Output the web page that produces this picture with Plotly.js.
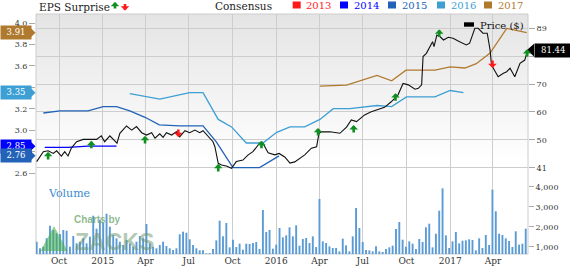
<!DOCTYPE html>
<html><head><meta charset="utf-8">
<script src="https://cdn.plot.ly/plotly-3.0.1.min.js"></script>
<style>html,body{margin:0;padding:0;background:#fff;}#chart{width:570px;height:266px;}</style>
</head><body><div id="chart"></div>
<script>
// ---------------- DATA ----------------
const priceDates = ['2014-08-15','2014-08-29','2014-09-08','2014-09-19','2014-09-26','2014-10-06','2014-10-13','2014-10-20','2014-10-27','2014-11-07',
'2014-11-21','2014-12-08','2014-12-19','2014-12-29','2015-01-05','2015-01-16','2015-01-23','2015-01-31','2015-02-06','2015-02-20',
'2015-03-03','2015-03-13','2015-03-24','2015-04-03','2015-04-14','2015-04-21','2015-05-01','2015-05-08','2015-05-15','2015-05-26',
'2015-06-05','2015-06-12','2015-06-23','2015-07-03','2015-07-14','2015-07-24','2015-07-31','2015-08-11','2015-08-21','2015-08-25',
'2015-09-01','2015-09-08','2015-09-18','2015-09-29','2015-10-09','2015-10-23','2015-11-03','2015-11-13','2015-11-27','2015-12-04',
'2015-12-15','2015-12-29','2016-01-07','2016-01-19','2016-01-30','2016-02-09','2016-02-20','2016-03-01','2016-03-15','2016-03-26',
'2016-03-31','2016-04-05','2016-04-23','2016-05-14','2016-05-28','2016-06-07','2016-06-18','2016-07-05','2016-07-19','2016-08-02',
'2016-08-16','2016-08-30','2016-09-13','2016-09-24','2016-10-05','2016-10-19','2016-10-26','2016-11-02','2016-11-05','2016-11-12',
'2016-11-19','2016-11-25','2016-11-28','2016-12-04','2016-12-11','2016-12-18','2016-12-28','2017-01-07','2017-01-21','2017-02-04',
'2017-02-11','2017-02-22','2017-03-01','2017-03-11','2017-03-20','2017-03-26','2017-03-29','2017-04-12','2017-04-23','2017-04-30',
'2017-05-07','2017-05-17','2017-05-28','2017-06-07','2017-06-13'];
const priceValues = [43.2,46.6,46.9,46.0,46.9,45.1,46.6,45.1,47.8,50.0,
50.8,50.8,50.8,52.0,50.0,52.0,50.8,49.5,52.9,55.4,
54.0,55.2,53.1,52.3,53.1,51.2,52.7,51.5,53.1,52.3,
53.4,51.7,53.8,53.1,54.0,53.1,53.8,51.7,50.0,48.3,
42.6,42.0,41.7,40.9,43.2,43.7,45.5,46.6,49.5,49.5,
46.2,45.5,46.0,44.8,42.7,43.1,44.4,45.5,47.8,48.3,
52.9,53.4,53.4,52.9,55.0,57.5,56.9,59.2,60.3,61.1,
61.8,63.7,66.0,70.0,69.5,68.0,68.3,69.5,79.2,80.3,
82.6,84.3,82.6,86.6,86.0,84.9,85.8,85.5,84.3,83.2,
83.8,88.9,88.9,87.2,87.2,81.5,76.3,72.3,73.5,74.0,
75.2,72.3,76.9,78.0,81.44];

const eps2014Dates = ['2014-09-01','2014-10-20','2014-12-01','2015-01-30'];
const eps2014 = [2.84,2.84,2.85,2.85];
const eps2015Dates = ['2014-08-29','2014-10-03','2014-12-01','2015-01-02','2015-01-30','2015-02-27','2015-03-31','2015-04-30','2015-06-12','2015-07-31','2015-08-28','2015-10-02','2015-11-27','2016-01-07'];
const eps2015 = [3.16,3.18,3.18,3.22,3.22,3.18,3.12,3.05,3.04,3.04,2.89,2.65,2.65,2.76];
const eps2016Dates = ['2015-02-27','2015-05-01','2015-07-03','2015-07-31','2015-09-01','2015-09-29','2015-10-30','2015-12-04','2016-01-02','2016-01-30','2016-03-01','2016-04-02','2016-04-30','2016-06-04','2016-07-31','2016-08-31','2016-10-01','2016-11-30','2017-01-01','2017-01-29'];
const eps2016 = [3.34,3.29,3.35,3.35,3.10,3.03,2.88,2.88,2.98,3.03,3.03,3.10,3.20,3.20,3.23,3.22,3.31,3.31,3.37,3.35];
const eps2017Dates = ['2016-04-02','2016-05-28','2016-07-31','2016-08-31','2016-09-30','2016-11-30','2017-01-01','2017-02-01','2017-02-25','2017-03-26','2017-04-30','2017-06-11'];
const eps2017 = [3.41,3.42,3.51,3.46,3.56,3.56,3.59,3.58,3.62,3.72,3.95,3.91];

const volumeValues = [1250,920,1000,1420,2050,1835,1670,1635,1835,1800,1000,1535,1170,1250,1420,1170,1500,2550,1900,2350,2200,2650,2000,1585,1420,1250,1085,1335,1170,1000,1250,1535,1420,2135,1170,1000,920,1085,1250,1035,920,835,920,1620,1750,1700,1370,1085,920,
818,818,668,680,885,1318,2301,1518,2185,968,1351,985,1151,851,1151,1135,1185,1235,885,2835,1735,1835,901,1101,1935,1468,1568,1968,1518,2068,1051,1385,1435,1185,1518,985,3385,1268,1185,1018,935,935,768,1401,1068,768,1518,2935,1935,
1235,835,818,768,1018,768,735,885,968,1051,1885,2235,1351,1001,1268,1151,885,1385,1235,1968,2151,968,1651,2801,3918,1568,935,1268,1735,1168,1301,1318,1368,1335,818,1418,935,1585,1085,3851,2768,1651,1585,1418,1285,985,1768,1101,1151,1901];
const volumeStart = '2014-08-15';

const surpriseDates = ['2014-09-08','2014-12-08','2015-03-31','2015-06-09','2015-09-01','2015-12-01','2016-03-29','2016-06-12','2016-09-08','2016-12-09','2017-03-31','2017-06-12'];
const surprisePrice = [46.5,50.3,52.0,51.6,42.4,50.3,54.7,55.7,66.6,88.5,75.3,81.7];
const surpriseDir = ['up','up','up','down','up','up','up','up','up','up','down','up'];

const quarterTicks = ['2014-10-01','2015-01-01','2015-04-01','2015-07-01','2015-10-01','2016-01-01','2016-04-01','2016-07-01','2016-10-01','2017-01-01','2017-04-01'];
const quarterLabels = ['Oct','2015','Apr','Jul','Oct','2016','Apr','Jul','Oct','2017','Apr'];
const epsTicks = [2.6,2.8,3.0,3.2,3.4,3.6,3.8,4.0];
const epsTickText = ['2.6','','3.0','3.2','','3.6','3.8','4.0'];   // 2.8 and 3.4 sit under the value tags
const priceTickVals = [41,50.6,60.2,69.8,79.4,89];
const priceTickText = ['41','50','60','70','','89'];              // 79 sits under the price tag
const volTickVals = [1000,2000,3000,4000];
const volTickText = ['1,000','2,000','3,000','4,000'];

const years = ['2013','2014','2015','2016','2017'];
const yearColors = ['#ff1a1a','#0000ff','#2263b8','#3d9fd4','#b07a2e'];
const lastEps = [null,2.85,2.76,3.35,3.91];
const lastPrice = 81.44;

// ---------------- LAYOUT HELPERS ----------------
const FONT = 'DejaVu Serif, serif';
const L=36, R=528, T=14, B=254;
const px = x => (x-L)/(R-L);
const py = y => (B-y)/(B-T);

const DAY = 864e5;
const t0 = Date.parse(volumeStart+'T00:00:00Z');
const volumeDates = volumeValues.map((_,i)=> new Date(t0 + i*7*DAY).toISOString().slice(0,10));

const traces = [
  {type:'bar', x:volumeDates, y:volumeValues, yaxis:'y3', width:4.0*DAY,
   marker:{color:'#5b9bd5', line:{width:0}}},
  {type:'scatter', mode:'lines', x:eps2014Dates, y:eps2014, yaxis:'y', line:{color:yearColors[1], width:1.3}},
  {type:'scatter', mode:'lines', x:eps2015Dates, y:eps2015, yaxis:'y', line:{color:yearColors[2], width:1.3}},
  {type:'scatter', mode:'lines', x:eps2016Dates, y:eps2016, yaxis:'y', line:{color:yearColors[3], width:1.3}},
  {type:'scatter', mode:'lines', x:eps2017Dates, y:eps2017, yaxis:'y', line:{color:yearColors[4], width:1.3}},
  {type:'scatter', mode:'lines', x:priceDates, y:priceValues, yaxis:'y2', line:{color:'#111111', width:1.1}}
];

const gradSvg = '<svg xmlns="http://www.w3.org/2000/svg" width="10" height="100" viewBox="0 0 10 100" preserveAspectRatio="none"><defs><linearGradient id="g" x1="0" y1="0" x2="0" y2="1"><stop offset="0" stop-color="#e4e4e4"/><stop offset="0.62" stop-color="#ffffff"/><stop offset="1" stop-color="#ffffff"/></linearGradient></defs><rect width="10" height="100" fill="url(#g)"/></svg>';
const gradSrc = 'data:image/svg+xml;charset=utf-8,' + encodeURIComponent(gradSvg);

const shapes = [];
const annotations = [];

// plot border
shapes.push({type:'rect', xref:'paper', yref:'paper', x0:0, x1:1, y0:0, y1:1, line:{color:'#cccccc', width:1}, layer:'below'});

// top legend
annotations.push({xref:'paper', yref:'paper', x:px(37), y:py(7), xanchor:'left', yanchor:'middle', text:'EPS Surprise', showarrow:false, font:{family:FONT, size:10.5, color:'#222'}});
annotations.push({xref:'paper', yref:'paper', x:px(115), y:py(2), text:'', showarrow:true, arrowhead:1, arrowsize:0.55, arrowwidth:2.6, arrowcolor:'#0f8f1f', ax:0, ay:8});
annotations.push({xref:'paper', yref:'paper', x:px(125), y:py(10.5), text:'', showarrow:true, arrowhead:1, arrowsize:0.55, arrowwidth:2.6, arrowcolor:'#ff1a1a', ax:0, ay:-8});
annotations.push({xref:'paper', yref:'paper', x:px(213), y:py(6), xanchor:'left', yanchor:'middle', text:'Consensus', showarrow:false, font:{family:FONT, size:10.5, color:'#222'}});
const legX = [292.7, 340, 388, 437, 484];
years.forEach((yr,i)=>{
  shapes.push({type:'rect', xref:'paper', yref:'paper', x0:px(legX[i]), x1:px(legX[i]+8), y0:py(8.5), y1:py(1.5), fillcolor:yearColors[i], line:{width:0}});
  annotations.push({xref:'paper', yref:'paper', x:px(legX[i]+11.5), y:py(5.5), xanchor:'left', yanchor:'middle', text:yr, showarrow:false, font:{family:FONT, size:10, color:yearColors[i]}});
});

// price legend
shapes.push({type:'rect', xref:'paper', yref:'paper', x0:px(464), x1:px(474), y0:py(26.7), y1:py(22.3), fillcolor:'#000', line:{width:0}});
annotations.push({xref:'paper', yref:'paper', x:px(477.5), y:py(25.5), xanchor:'left', yanchor:'middle', text:'Price ($)', showarrow:false, font:{family:FONT, size:10, color:'#111'}});

// Volume label
annotations.push({xref:'paper', yref:'paper', x:px(46), y:py(193), xanchor:'left', yanchor:'middle', text:'Volume', showarrow:false, font:{family:FONT, size:11, color:'#3a8cd0'}});

// Zacks watermark
shapes.push({type:'path', xref:'paper', yref:'paper', path:`M ${px(54)},${py(226)} L ${px(67.5)},${py(251)} L ${px(40.5)},${py(251)} Z`, fillcolor:'rgba(70,175,70,0.55)', line:{width:0}});
annotations.push({xref:'paper', yref:'paper', x:px(72), y:py(219.5), xanchor:'left', yanchor:'middle', text:'<b>Charts by</b>', showarrow:false,
  font:{family:'Liberation Sans, Arial, sans-serif', size:10, color:'rgba(95,160,95,0.72)'}});
annotations.push({xref:'paper', yref:'paper', x:px(73), y:py(242), xanchor:'left', yanchor:'middle', text:'<b>ZACKS</b>', showarrow:false,
  font:{family:'Liberation Sans Narrow, Liberation Sans, sans-serif', size:23, color:'rgba(105,150,105,0.5)'}});

// EPS surprise arrows
surpriseDates.forEach((d,i)=>{
  const up = surpriseDir[i]==='up';
  annotations.push({xref:'x', yref:'y2', x:d, y:surprisePrice[i], text:'', showarrow:true, arrowhead:1, arrowsize:0.55, arrowwidth:2.6,
    arrowcolor: up ? '#0f8f1f' : '#ff1a1a', ax:0, ay: up ? 9 : -9, standoff:0});
});

// left EPS tags (draw 2.85 before 2.76 so 2.76 sits on top)
const tagOrder = [4,3,1,2];
const epsHalf = 0.059;
tagOrder.forEach(i=>{
  const v = lastEps[i];
  shapes.push({type:'path', xref:'paper', yref:'y', layer:'above',
    path:`M ${px(29)},${v+epsHalf} L ${px(35.5)},${v} L ${px(29)},${v-epsHalf} Z`, fillcolor:yearColors[i], line:{width:0}});
  annotations.push({xref:'paper', yref:'y', x:px(0), y:v, xanchor:'left', yanchor:'middle', width:30, height:12.6, borderpad:0,
    bgcolor:yearColors[i], text:v.toFixed(2), showarrow:false, align:'center', font:{family:FONT, size:8.5, color:'#ffffff'}});
});

// right price tag
const prHalf = 2.2;
shapes.push({type:'path', xref:'paper', yref:'y2', layer:'above',
  path:`M ${px(527)},${lastPrice} L ${px(534)},${lastPrice+prHalf} L ${px(534)},${lastPrice-prHalf} Z`, fillcolor:'#000', line:{width:0}});
annotations.push({xref:'paper', yref:'y2', x:px(533.5), y:lastPrice, xanchor:'left', yanchor:'middle', width:36.5, height:12.6, borderpad:0,
  bgcolor:'#000', text:lastPrice.toFixed(2), showarrow:false, align:'center', font:{family:FONT, size:8.5, color:'#ffffff'}});

const layout = {
  width:570, height:266,
  margin:{l:36, r:42, t:14, b:12, pad:0},
  paper_bgcolor:'#ffffff', plot_bgcolor:'rgba(0,0,0,0)',
  showlegend:false,
  font:{family:FONT, size:8, color:'#333'},
  xaxis:{type:'date', range:['2014-08-13 14:00','2017-06-13 19:00'], tickvals:quarterTicks, ticktext:quarterLabels,
    showgrid:true, gridcolor:'#cdcdcd', gridwidth:1, ticks:'', tickfont:{family:FONT, size:9, color:'#333'},
    zeroline:false, showline:false, fixedrange:true},
  yaxis:{range:[1.844,4.084], tickvals:epsTicks, ticktext:epsTickText, ticks:'outside', ticklen:6, tickcolor:'#aaaaaa',
    showgrid:false, zeroline:false, showline:false, tickfont:{family:FONT, size:8, color:'#333'}},
  yaxis2:{overlaying:'y', side:'right', range:[11.51,93.8], tickvals:priceTickVals, ticktext:priceTickText, ticks:'outside', ticklen:6,
    tickcolor:'#aaaaaa', showgrid:true, gridcolor:'#cdcdcd', gridwidth:1, zeroline:false, showline:false, tickfont:{family:FONT, size:8, color:'#333'}},
  yaxis3:{overlaying:'y', side:'right', range:[635,12635], tickvals:volTickVals, ticktext:volTickText, ticks:'outside', ticklen:5,
    tickcolor:'#aaaaaa', showgrid:false, zeroline:false, showline:false, tickfont:{family:FONT, size:8, color:'#333'}},
  images:[{source:gradSrc, xref:'paper', yref:'paper', x:0, y:1, sizex:1, sizey:1, sizing:'stretch', xanchor:'left', yanchor:'top', layer:'below'}],
  shapes:shapes,
  annotations:annotations
};

Plotly.newPlot('chart', traces, layout, {staticPlot:true, displayModeBar:false});
</script>
</body></html>
